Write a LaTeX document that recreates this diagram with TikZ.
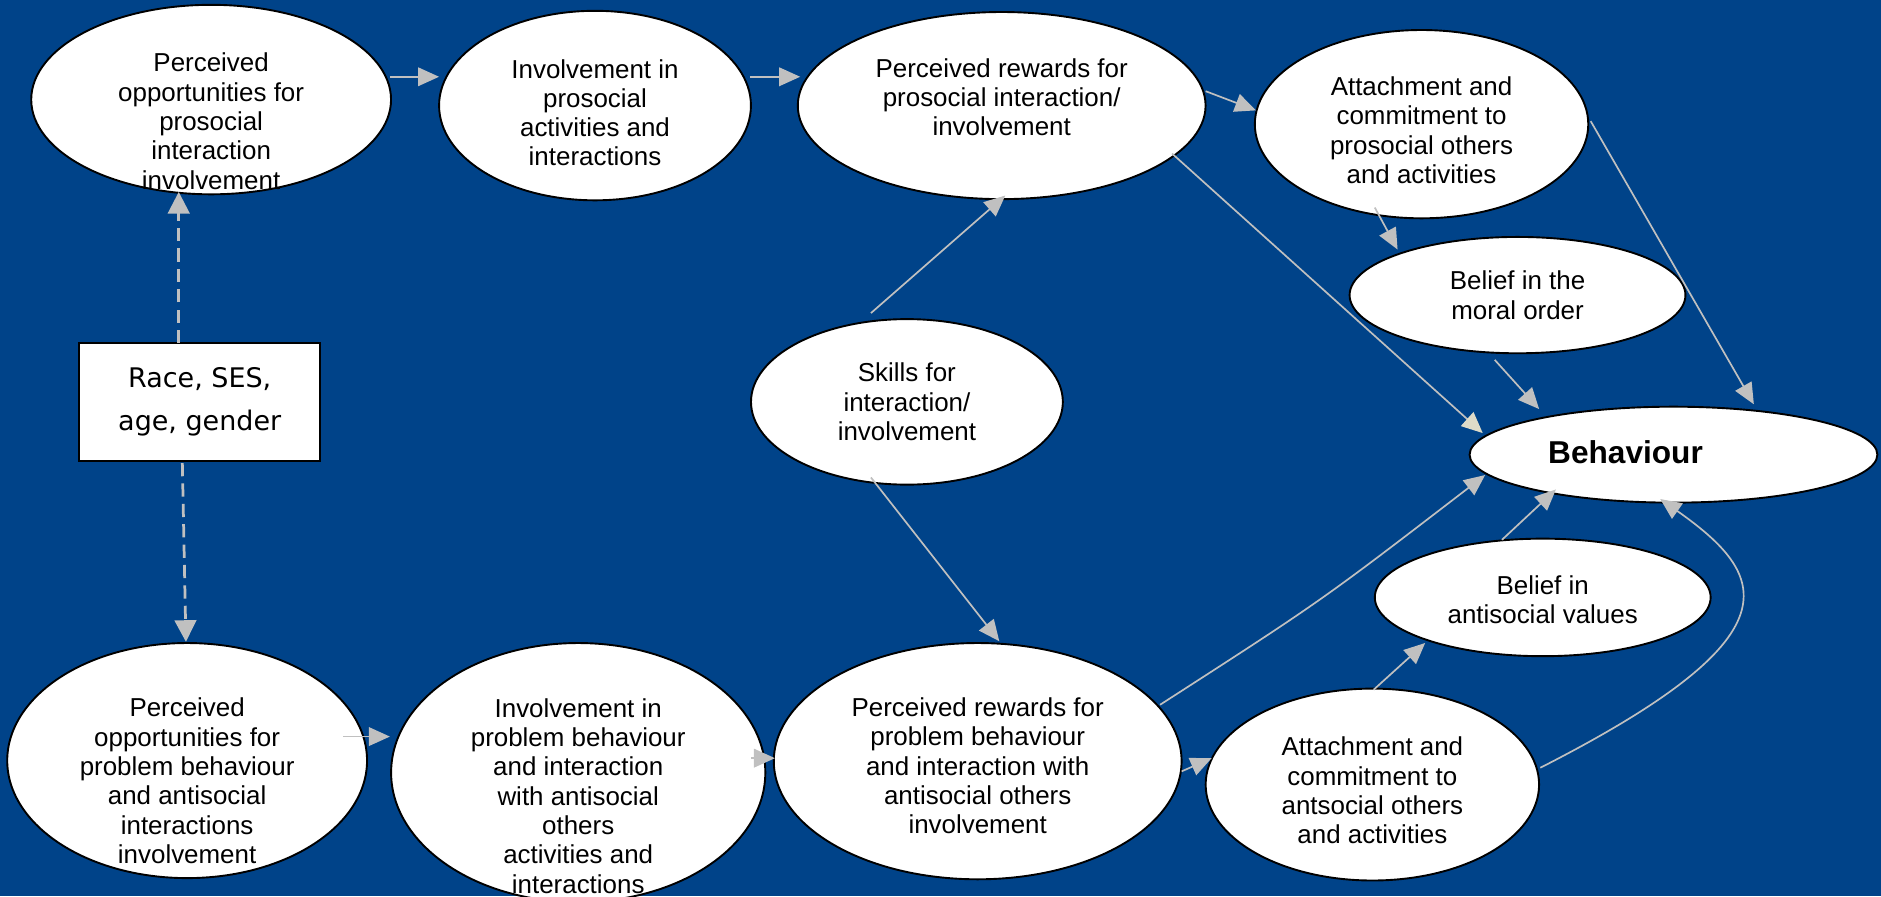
\documentclass[tikz,border=0pt]{standalone}
\usepackage{fontspec}
\setmainfont{Liberation Sans}
\newfontfamily\boxfont{DejaVu Sans}
\usetikzlibrary{calc,arrows.meta,shapes.geometric}
\definecolor{bgblue}{RGB}{0,67,137}
\definecolor{arrgray}{RGB}{192,192,192}
\definecolor{headcream}{RGB}{222,219,200}

\begin{document}
\begin{tikzpicture}[x=0.02cm,y=-0.02cm,
    ell/.style={ellipse,draw=black,line width=0.9pt,fill=white,inner sep=0pt},
    txt/.style={align=center,inner sep=0pt,font=\fontsize{12.3}{13.9}\selectfont},
    arr/.style={draw=arrgray,line width=0.8pt,-{Triangle[length=0.35cm,width=0.31cm]}},
    creamtip/.style={-{Triangle[length=0.35cm,width=0.31cm,color=headcream]}},
    dasharr/.style={draw=arrgray,line width=1.3pt,dash pattern=on 0.22cm off 0.12cm,
        -{Triangle[length=0.36cm,width=0.36cm]}}]
    \fill[bgblue] (0,0) rectangle (1568,747);
    \useasboundingbox (0,0) rectangle (1568,747);
    \foreach \n/\x/\y/\w/\h in {popro/176/83/6/3.16, invpro/496/88/5.2/3.16, rewpro/835/88/6.8/3.12,
        attpro/1185/103.5/5.56/3.14, moral/1265/246/5.6/1.94, skills/756/335/5.2/2.76,
        behav/1395/379/6.8/1.6, antival/1286/498/5.6/1.96, attanti/1144/654/5.56/3.2,
        rewprob/815/634.5/6.8/3.94, invprob/482/644/6.24/4.32, poprob/156/634/6/3.92}
        \node[ell,minimum width=\w cm,minimum height=\h cm] (\n) at (\x,\y) {};
    \node[draw=black,line width=1pt,fill=white,minimum width=4.02cm,minimum height=1.96cm,
        align=center,font=\boxfont\fontsize{12.8}{20.7}\selectfont] (box) at (166.5,335) {Race, SES,\\age, gender};
    \node[txt] (popro-t) at ($(popro)+(0,18)$) {Perceived\\opportunities for\\prosocial\\interaction\\involvement};
    \node[txt] (invpro-t) at ($(invpro)+(0,6)$) {Involvement in\\prosocial\\activities and\\interactions};
    \node[txt] (rewpro-t) at ($(rewpro)+(0,-7)$) {Perceived rewards for\\prosocial interaction/\\involvement};
    \node[txt] (attpro-t) at ($(attpro)+(0,5)$) {Attachment and\\commitment to\\prosocial others\\and activities};
    \node[txt] (moral-t) at (moral) {Belief in the\\moral order};
    \node[txt] (skills-t) at (skills) {Skills for\\interaction/\\involvement};
    \node[txt,font=\fontsize{15}{18}\selectfont\bfseries] (behav-t) at ($(behav)+(-40,-2)$) {Behaviour};
    \node[txt] (antival-t) at ($(antival)+(0,2)$) {Belief in\\antisocial values};
    \node[txt] (attanti-t) at ($(attanti)+(0,5)$) {Attachment and\\commitment to\\antsocial others\\and activities};
    \node[txt] (rewprob-t) at ($(rewprob)+(0,4)$) {Perceived rewards for\\problem behaviour\\and interaction with\\antisocial others\\involvement};
    \node[txt] (invprob-t) at ($(invprob)+(0,19.5)$) {Involvement in\\problem behaviour\\and interaction\\with antisocial\\others\\activities and\\interactions};
    \node[txt] (poprob-t) at ($(poprob)+(0,17)$) {Perceived\\opportunities for\\problem behaviour\\and antisocial\\interactions\\involvement};
    \draw[arr] ($(popro)+(149,-19)$) -- ($(invpro)+(-130,-24)$);
    \draw[arr] ($(invpro)+(129,-24)$) -- ($(rewpro)+(-168,-24)$);
    \draw[arr] ($(rewpro)+(170,-12)$) -- ($(attpro)+(-138,-11.5)$);
    \draw[arr] ($(attpro)+(-39,69.5)$) -- ($(moral)+(-100,-38)$);
    \draw[arr] ($(skills)+(-30,-74)$) -- ($(rewpro)+(3,75)$);
    \draw[arr,creamtip] ($(rewpro)+(142,40)$) -- ($(behav)+(-159,-18)$);
    \draw[arr] ($(attpro)+(141,-2.5)$) -- ($(behav)+(67,-42)$);
    \draw[arr] ($(moral)+(-19,54)$) -- ($(behav)+(-112,-38)$);
    \draw[arr] ($(skills)+(-30,63)$) -- ($(rewprob)+(18,-100)$);
    \draw[arr] ($(rewprob)+(152,-47)$) .. controls ($(rewprob)+(287,-134)$) .. ($(behav)+(-157,17)$);
    \draw[arr] ($(rewprob)+(170,8.5)$) -- ($(attanti)+(-134,-22)$);
    \draw[arr] ($(attanti)+(1,-79)$) -- ($(antival)+(-98,38)$);
    \draw[arr] ($(antival)+(-34,-48)$) -- ($(behav)+(-98,29)$);
    \draw[arr] ($(attanti)+(140,-14)$) .. controls ($(attanti)+(356,-124)$) and ($(behav)+(80,101)$) .. ($(behav)+(-11,37)$);
    \draw[arr] ($(poprob)+(130,-20)$) -- ($(invprob)+(-157,-30)$);
    \draw[arr] ($(invprob)+(144,-12)$) -- ($(rewprob)+(-169,-2.5)$);
    \draw[dasharr] ($(box)+(-17.5,-49)$) -- ($(popro)+(-27,77)$);
    \draw[dasharr] ($(box)+(-14.5,51)$) -- ($(poprob)+(-1,-99)$);
\end{tikzpicture}
\end{document}
